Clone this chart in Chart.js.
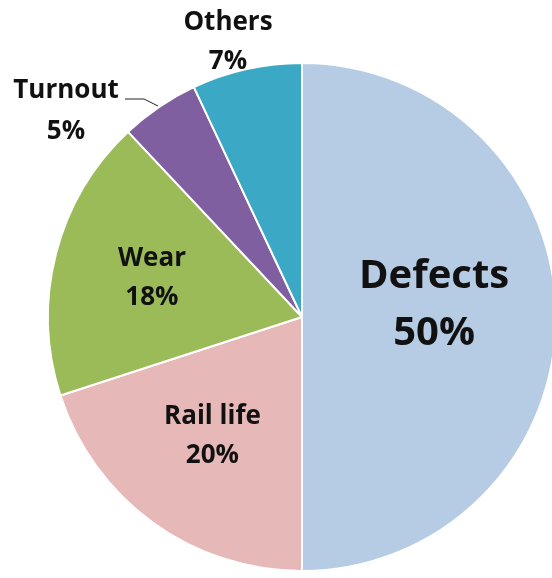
<!DOCTYPE html>
<html>
<head>
<meta charset="utf-8">
<script src="https://cdn.jsdelivr.net/npm/chart.js@4.4.1/dist/chart.umd.min.js"></script>
<style>
  html, body { margin: 0; padding: 0; background: #fff; }
  #wrap { width: 552px; height: 578px; overflow: hidden; position: relative; }
  #box { width: 562px; height: 578px; }
</style>
</head>
<body>
<div id="wrap"><div id="box"><canvas id="myChart"></canvas></div></div>
<script>
const kategorije = ["Defects", "Rail life", "Wear", "Turnout", "Others"];
const postotci = [50, 20, 18, 5, 7];
const boje = ["#b6cbe4", "#e6b8b7", "#9bbb59", "#7f5fa0", "#3ba8c5"];

// where the labels go: inside at fraction of radius, or outside at fixed spot
const oznake = [
  { unutra: 0.52, size: 40, gap: 1.42, pomak: -12 },
  { unutra: 0.60, size: 26, gap: 1.5, pomak: -4 },
  { unutra: 0.61, size: 26, gap: 1.5, pomak: 0 },
  { vani: [66, 91], size: 26, gap: 1.55, linija: [[125, 99], [144, 99], [158, 106]] },
  { vani: [228, 23], size: 26, gap: 1.48 }
];

const labelPlugin = {
  id: 'labele',
  afterDatasetsDraw(chart) {
    const ctx = chart.ctx;
    const meta = chart.getDatasetMeta(0);
    ctx.save();
    ctx.fillStyle = '#111';
    ctx.textAlign = 'center';
    ctx.textBaseline = 'middle';
    meta.data.forEach((arc, i) => {
      const o = oznake[i];
      const tekst = [kategorije[i], postotci[i] + '%'];
      let x, y;
      if (o.unutra) {
        const mid = (arc.startAngle + arc.endAngle) / 2;
        x = arc.x + Math.cos(mid) * arc.outerRadius * o.unutra;
        y = arc.y + Math.sin(mid) * arc.outerRadius * o.unutra;
        y -= o.size * o.gap / 2;
        y += o.pomak;
      } else {
        x = o.vani[0];
        y = o.vani[1];
      }
      ctx.font = `bold ${o.size}px "Open Sans", Lato, sans-serif`;
      ctx.fillText(tekst[0], x, y);
      ctx.fillText(tekst[1], x, y + o.size * o.gap);
      if (o.linija) {
        ctx.beginPath();
        ctx.strokeStyle = '#222';
        ctx.lineWidth = 1;
        ctx.moveTo(o.linija[0][0], o.linija[0][1]);
        for (let k = 1; k < o.linija.length; k++) ctx.lineTo(o.linija[k][0], o.linija[k][1]);
        ctx.stroke();
      }
    });
    ctx.restore();
  }
};

new Chart(document.getElementById('myChart'), {
  type: 'pie',
  data: {
    labels: kategorije,
    datasets: [{
      data: postotci,
      backgroundColor: boje,
      borderColor: '#ffffff',
      borderWidth: 2
    }]
  },
  options: {
    responsive: true,
    maintainAspectRatio: false,
    animation: false,
    layout: { padding: { left: 47, right: 5, top: 62, bottom: 6 } },
    plugins: {
      legend: { display: false },
      tooltip: { enabled: false }
    }
  },
  plugins: [labelPlugin]
});
</script>
</body>
</html>
